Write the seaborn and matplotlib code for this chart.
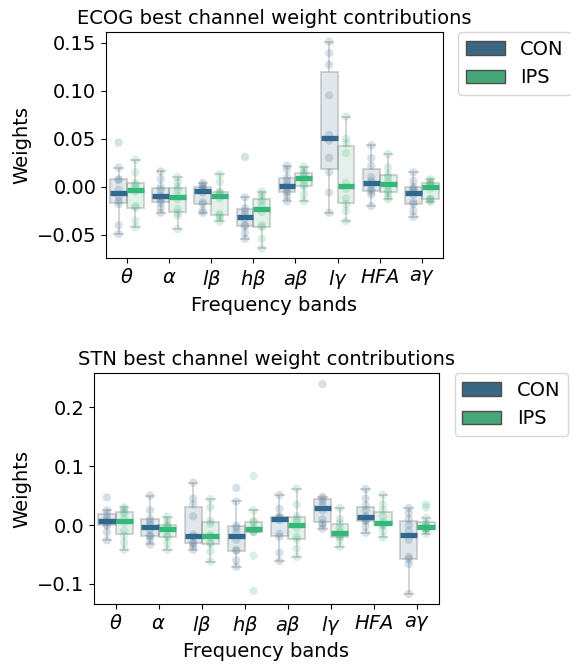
import numpy as np
import pandas as pd
import matplotlib
matplotlib.use("Agg")
import matplotlib.pyplot as plt
import seaborn as sns
from matplotlib.patches import Patch

bands = [r"$\theta$", r"$\alpha$", r"$l\beta$", r"$h\beta$", r"$a\beta$", r"$l\gamma$", r"$HFA$", r"$a\gamma$"]
groups = ["CON", "IPS"]

ecog_con = [
    [-0.049, -0.040, -0.018, -0.015, -0.010, -0.003, 0.007, 0.008, 0.020, 0.046],
    [-0.027, -0.022, -0.017, -0.014, -0.011, -0.009, -0.003, 0.000, 0.008, 0.016],
    [-0.027, -0.025, -0.018, -0.016, -0.006, -0.003, -0.002, 0.000, 0.002, 0.004],
    [-0.054, -0.048, -0.041, -0.040, -0.033, -0.029, -0.025, -0.022, -0.011, 0.031],
    [-0.015, -0.010, -0.006, -0.004, 0.000, 0.002, 0.006, 0.010, 0.018, 0.022],
    [-0.027, -0.006, 0.015, 0.030, 0.048, 0.054, 0.095, 0.127, 0.139, 0.151],
    [-0.020, -0.008, -0.005, -0.003, 0.002, 0.006, 0.010, 0.022, 0.030, 0.043],
    [-0.031, -0.025, -0.018, -0.016, -0.008, -0.004, -0.002, 0.000, 0.006, 0.015],
]
ecog_ips = [
    [-0.042, -0.035, -0.022, -0.020, -0.005, -0.001, 0.002, 0.004, 0.015, 0.028],
    [-0.044, -0.030, -0.027, -0.023, -0.013, -0.009, -0.003, 0.000, 0.005, 0.010],
    [-0.036, -0.033, -0.030, -0.028, -0.012, -0.008, -0.006, -0.005, 0.005, 0.013],
    [-0.064, -0.054, -0.042, -0.040, -0.026, -0.020, -0.015, -0.012, -0.008, -0.005],
    [-0.015, -0.008, 0.000, 0.002, 0.007, 0.011, 0.013, 0.015, 0.018, 0.021],
    [-0.036, -0.025, -0.018, -0.012, -0.002, 0.004, 0.035, 0.045, 0.050, 0.073],
    [-0.013, -0.010, -0.006, -0.004, 0.001, 0.005, 0.010, 0.013, 0.020, 0.034],
    [-0.016, -0.014, -0.013, -0.012, -0.002, 0.002, 0.003, 0.004, 0.006, 0.008],
]
stn_con = [
    [-0.026, -0.012, -0.001, 0.001, 0.005, 0.008, 0.012, 0.020, 0.025, 0.047],
    [-0.033, -0.025, -0.019, -0.018, -0.008, 0.000, 0.006, 0.011, 0.025, 0.050],
    [-0.042, -0.036, -0.031, -0.030, -0.020, -0.016, 0.015, 0.035, 0.045, 0.072],
    [-0.071, -0.060, -0.044, -0.042, -0.025, -0.013, -0.005, -0.001, 0.040, 0.063],
    [-0.061, -0.047, -0.020, -0.015, 0.008, 0.012, 0.013, 0.015, 0.028, 0.051],
    [-0.006, 0.000, 0.003, 0.010, 0.025, 0.033, 0.040, 0.045, 0.048, 0.239],
    [-0.013, -0.002, 0.007, 0.008, 0.012, 0.015, 0.025, 0.033, 0.045, 0.061],
    [-0.117, -0.066, -0.058, -0.054, -0.025, -0.010, 0.000, 0.010, 0.020, 0.029],
]
stn_ips = [
    [-0.042, -0.030, -0.018, -0.010, 0.004, 0.010, 0.020, 0.023, 0.027, 0.030],
    [-0.042, -0.030, -0.020, -0.019, -0.010, -0.004, -0.002, 0.001, 0.008, 0.014],
    [-0.062, -0.045, -0.032, -0.030, -0.020, -0.016, 0.002, 0.007, 0.030, 0.044],
    [-0.112, -0.052, -0.012, -0.012, -0.009, -0.007, -0.004, 0.006, 0.006, 0.025, 0.083],
    [-0.054, -0.040, -0.025, -0.020, -0.005, 0.005, 0.010, 0.015, 0.035, 0.062],
    [-0.037, -0.025, -0.020, -0.018, -0.015, -0.011, -0.005, 0.003, 0.010, 0.029],
    [-0.021, -0.010, -0.001, 0.000, 0.002, 0.005, 0.015, 0.025, 0.035, 0.051],
    [-0.015, -0.009, -0.007, -0.006, -0.005, -0.004, -0.002, 0.000, 0.003, 0.012, 0.030, 0.035],
]

full_cols = [plt.cm.viridis(1 / 3), plt.cm.viridis(2 / 3)]
pal = dict(zip(groups, full_cols))
leg_cols = [sns.desaturate(c, 0.75) for c in full_cols]

FS = 14


def to_df(con, ips):
    rows = []
    for g, arrs in zip(groups, [con, ips]):
        for b, vals in zip(bands, arrs):
            for v in vals:
                rows.append((b, g, v))
    return pd.DataFrame(rows, columns=["band", "group", "w"])


def draw(ax, con, ips, title, ylim, yticks, yfmt):
    df = to_df(con, ips)
    sns.stripplot(data=df, x="band", y="w", hue="group", order=bands, hue_order=groups,
                  palette=pal, dodge=True, jitter=False, alpha=0.2, size=6,
                  legend=False, ax=ax, zorder=1)
    sns.boxplot(data=df, x="band", y="w", hue="group", order=bands, hue_order=groups,
                palette=pal, showfliers=False, width=0.8, linewidth=1.3,
                linecolor="#999999", medianprops=dict(color="red", linewidth=3.8,
                                                       solid_capstyle="butt"),
                legend=False, ax=ax)
    for p in ax.patches:
        fc = p.get_facecolor()
        p.set_facecolor((fc[0], fc[1], fc[2], 0.15))
        p.set_edgecolor((0.55, 0.55, 0.55, 0.4))
    for ln in ax.lines:
        c = matplotlib.colors.to_hex(ln.get_color())
        if c == "#ff0000":
            xc = float(np.mean(ln.get_xdata()))
            idx = 0 if xc < round(xc) else 1
            ln.set_color(full_cols[idx])
            ln.set_zorder(6)
        else:
            ln.set_color((0.55, 0.55, 0.55, 0.4))
    ax.set_ylim(*ylim)
    ax.set_yticks(yticks)
    ax.set_yticklabels([yfmt.format(t).replace("-", "\u2212") for t in yticks])
    ax.set_title(title, fontsize=FS)
    ax.set_xlabel("Frequency bands", fontsize=FS)
    ax.set_ylabel("Weights", fontsize=FS)
    ax.tick_params(labelsize=FS)
    handles = [Patch(facecolor=leg_cols[i], edgecolor="0.3", label=g) for i, g in enumerate(groups)]
    ax.legend(handles=handles, loc="upper left", bbox_to_anchor=(1.045, 1.0),
              borderaxespad=0, fontsize=FS, frameon=True)


fig = plt.figure(figsize=(5.71, 6.65), dpi=100)
ax1 = fig.add_axes([0.1856, 0.612, 0.590, 0.340])
ax2 = fig.add_axes([0.1646, 0.0917, 0.6042, 0.3474])

draw(ax1, ecog_con, ecog_ips, "ECOG best channel weight contributions",
     (-0.074, 0.161), [-0.05, 0.0, 0.05, 0.10, 0.15], "{:.2f}")
draw(ax2, stn_con, stn_ips, "STN best channel weight contributions",
     (-0.134, 0.258), [-0.1, 0.0, 0.1, 0.2], "{:.1f}")

fig.savefig("out.png", dpi=100)
